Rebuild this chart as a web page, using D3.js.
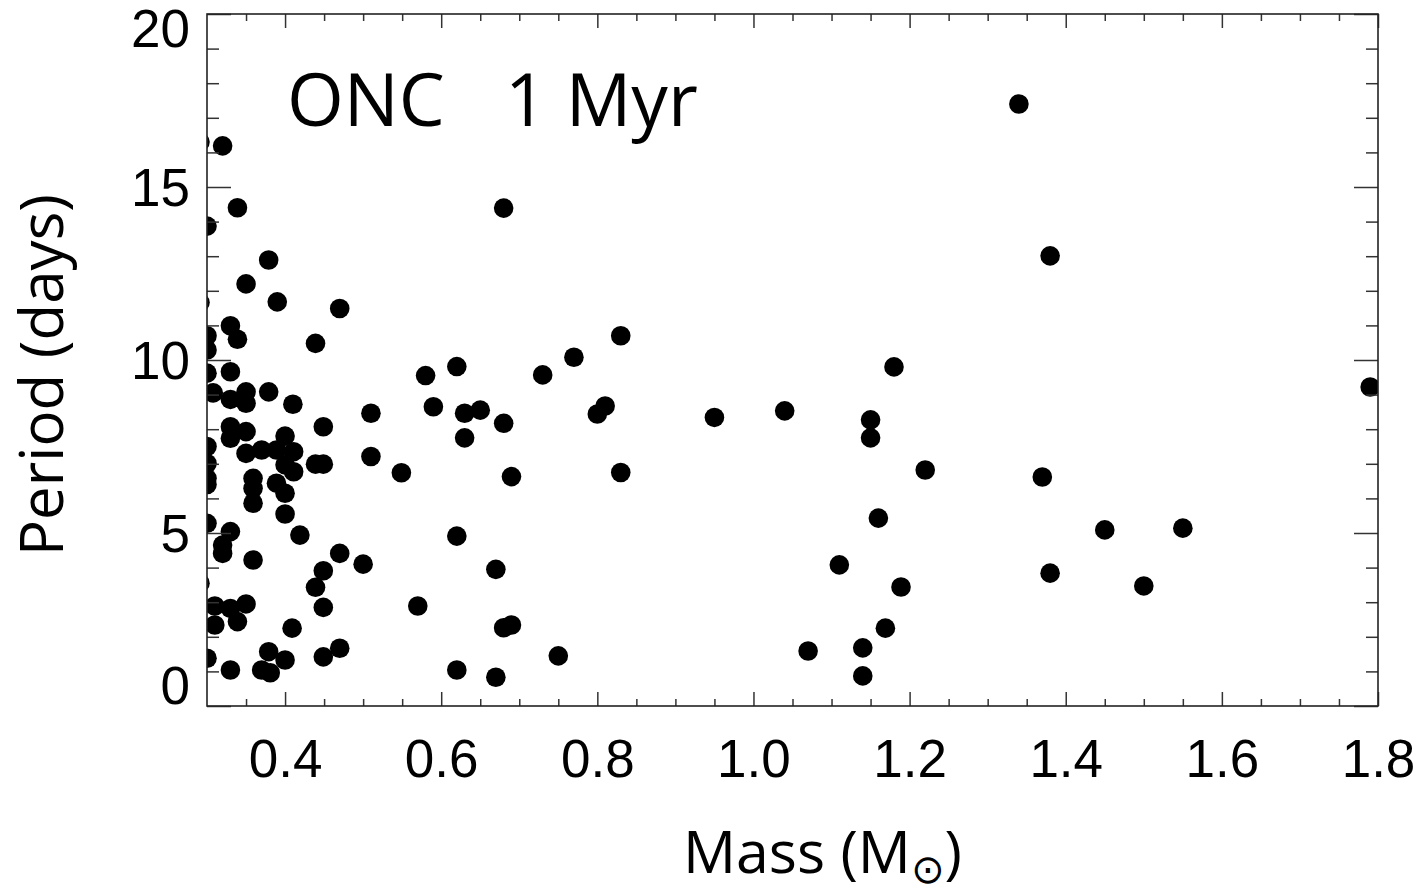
<!DOCTYPE html>
<html>
<head>
<meta charset="utf-8">
<script src="https://cdn.jsdelivr.net/npm/d3@7"></script>
<style>
  body { margin: 0; background: #fff; }
  svg { display: block; }
</style>
</head>
<body>
<svg id="chart" width="1426" height="892"></svg>
<script>
// Stellar mass (solar masses) and rotation period (days) for each star
const mass = [
  0.291, 0.300, 0.291, 0.300, 0.300, 0.300, 0.308, 0.300, 0.300, 0.300,
  0.300, 0.300, 0.291, 0.300, 0.320, 0.339, 0.379, 0.350, 0.390, 0.470,
  0.330, 0.339, 0.439, 0.330, 0.330, 0.350, 0.350, 0.379, 0.410, 0.449,
  0.330, 0.330, 0.350, 0.350, 0.370, 0.389, 0.400, 0.411, 0.400, 0.411,
  0.389, 0.400, 0.359, 0.359, 0.359, 0.400, 0.439, 0.449, 0.330, 0.320,
  0.320, 0.359, 0.419, 0.470, 0.449, 0.439, 0.449, 0.310, 0.330, 0.350,
  0.339, 0.310, 0.409, 0.330, 0.379, 0.400, 0.370, 0.381, 0.449, 0.470,
  0.500, 0.510, 0.510, 0.549, 0.580, 0.620, 0.590, 0.630, 0.650, 0.630,
  0.570, 0.620, 0.620, 0.830, 0.770, 0.730, 0.680, 0.800, 0.810, 0.950,
  0.690, 0.830, 0.670, 0.680, 0.690, 0.750, 0.670, 0.680, 1.340, 1.380,
  1.040, 1.150, 1.150, 1.180, 1.220, 1.370, 1.160, 1.450, 1.550, 1.110,
  1.380, 1.500, 1.189, 1.169, 1.070, 1.140, 1.140, 1.790
];
const period = [
  16.30, 13.87, 11.66, 10.70, 10.29, 9.62, 9.05, 7.50, 7.01, 6.58,
  6.40, 5.28, 3.55, 1.38, 16.19, 14.40, 12.89, 12.20, 11.68, 11.49,
  10.99, 10.60, 10.48, 9.66, 8.86, 9.08, 8.75, 9.08, 8.72, 8.07,
  8.07, 7.74, 7.93, 7.30, 7.40, 7.40, 7.80, 7.35, 6.97, 6.77,
  6.44, 6.15, 6.58, 6.29, 5.86, 5.55, 6.99, 6.99, 5.04, 4.65,
  4.41, 4.22, 4.94, 4.41, 3.91, 3.43, 2.85, 2.89, 2.82, 2.95,
  2.44, 2.34, 2.25, 1.04, 1.57, 1.33, 1.04, 0.96, 1.42, 1.67,
  4.10, 8.46, 7.21, 6.74, 9.55, 9.81, 8.65, 8.46, 8.55, 7.75,
  2.89, 4.91, 1.04, 10.70, 10.08, 9.57, 8.17, 8.44, 8.67, 8.34,
  6.63, 6.75, 3.95, 2.26, 2.34, 1.45, 0.83, 14.39, 17.40, 13.01,
  8.53, 8.27, 7.75, 9.80, 6.82, 6.62, 5.43, 5.09, 5.14, 4.08,
  3.84, 3.47, 3.44, 2.25, 1.59, 1.68, 0.87, 9.22
];

// Axis ticks
const xMajorTicks = [0.4, 0.6, 0.8, 1.0, 1.2, 1.4, 1.6, 1.8];
const xMinorTicks = [0.35, 0.45, 0.5, 0.55, 0.65, 0.7, 0.75, 0.85, 0.9, 0.95,
                     1.05, 1.1, 1.15, 1.25, 1.3, 1.35, 1.45, 1.5, 1.55, 1.65, 1.7, 1.75];
const yMajorTicks = [0, 5, 10, 15, 20];
const yMinorTicks = [1, 2, 3, 4, 6, 7, 8, 9, 11, 12, 13, 14, 16, 17, 18, 19];

const xDomain = [0.3, 1.8];
const yDomain = [0, 20];

const plot = { left: 207, right: 1378, top: 14, bottom: 706 };

const svg = d3.select("#chart");

const x = d3.scaleLinear().domain(xDomain).range([plot.left, plot.right]);
const y = d3.scaleLinear().domain(yDomain).range([plot.bottom, plot.top]);

const tickFont = "'Liberation Sans', Arial, Helvetica, sans-serif";
const titleFont = "'Open Sans', 'Noto Sans', sans-serif";

// Clip the markers to the plotting frame
svg.append("defs").append("clipPath").attr("id", "plot-clip")
  .append("rect")
  .attr("x", plot.left).attr("y", plot.top)
  .attr("width", plot.right - plot.left)
  .attr("height", plot.bottom - plot.top);

// Data points
const stars = mass.map((m, i) => ({ m, p: period[i] }));
svg.append("g")
  .attr("clip-path", "url(#plot-clip)")
  .selectAll("circle")
  .data(stars)
  .join("circle")
  .attr("cx", d => x(d.m))
  .attr("cy", d => y(d.p))
  .attr("r", 9.8)
  .attr("fill", "#000");

function styleAxis(g, showText) {
  g.select(".domain").remove();
  g.selectAll(".tick line").attr("stroke", "#333").attr("stroke-width", 1.5);
  if (!showText) g.selectAll(".tick text").remove();
}

// Bottom axis: major ticks with labels, then minor ticks
const gBottom = svg.append("g")
  .attr("transform", `translate(0,${plot.bottom})`)
  .call(d3.axisBottom(x).tickValues(xMajorTicks).tickSize(-14).tickPadding(33)
    .tickFormat(d3.format(".1f")));
styleAxis(gBottom, true);
gBottom.selectAll(".tick text")
  .attr("font-family", tickFont).attr("font-size", 53).attr("fill", "#000");

const gBottomMinor = svg.append("g")
  .attr("transform", `translate(0,${plot.bottom})`)
  .call(d3.axisBottom(x).tickValues(xMinorTicks).tickSize(-7).tickFormat(""));
styleAxis(gBottomMinor, false);

// Top axis: ticks only
const gTop = svg.append("g")
  .attr("transform", `translate(0,${plot.top})`)
  .call(d3.axisTop(x).tickValues(xMajorTicks).tickSize(-14).tickFormat(""));
styleAxis(gTop, false);
const gTopMinor = svg.append("g")
  .attr("transform", `translate(0,${plot.top})`)
  .call(d3.axisTop(x).tickValues(xMinorTicks).tickSize(-7).tickFormat(""));
styleAxis(gTopMinor, false);

// Left axis: major ticks with labels, then minor ticks
const gLeft = svg.append("g")
  .attr("transform", `translate(${plot.left},0)`)
  .call(d3.axisLeft(y).tickValues(yMajorTicks).tickSize(-24).tickPadding(17)
    .tickFormat(d3.format("d")));
styleAxis(gLeft, true);
gLeft.selectAll(".tick text")
  .attr("font-family", tickFont).attr("font-size", 53).attr("fill", "#000")
  .attr("dy", d => d === yDomain[0] ? "-0.04em" : d === yDomain[1] ? "0.62em" : "0.35em");

const gLeftMinor = svg.append("g")
  .attr("transform", `translate(${plot.left},0)`)
  .call(d3.axisLeft(y).tickValues(yMinorTicks).tickSize(-12).tickFormat(""));
styleAxis(gLeftMinor, false);

// Right axis: ticks only
const gRight = svg.append("g")
  .attr("transform", `translate(${plot.right},0)`)
  .call(d3.axisRight(y).tickValues(yMajorTicks).tickSize(-24).tickFormat(""));
styleAxis(gRight, false);
const gRightMinor = svg.append("g")
  .attr("transform", `translate(${plot.right},0)`)
  .call(d3.axisRight(y).tickValues(yMinorTicks).tickSize(-12).tickFormat(""));
styleAxis(gRightMinor, false);

// Frame
svg.append("rect")
  .attr("x", plot.left).attr("y", plot.top)
  .attr("width", plot.right - plot.left)
  .attr("height", plot.bottom - plot.top)
  .attr("fill", "none")
  .attr("stroke", "#222")
  .attr("stroke-width", 1.6);

// Axis titles
const xTitle = svg.append("text")
  .attr("x", 683).attr("y", 873)
  .attr("font-family", titleFont).attr("font-size", 59).attr("fill", "#000");
xTitle.append("tspan").text("Mass (M");
xTitle.append("tspan").attr("font-family", "'DejaVu Sans', sans-serif")
  .attr("font-size", 40).attr("dy", 10).text("\u2299");
xTitle.append("tspan").attr("dy", -10).text(")");

svg.append("text")
  .attr("transform", "translate(63,375) rotate(-90)")
  .attr("text-anchor", "middle")
  .attr("font-family", titleFont).attr("font-size", 60).attr("fill", "#000")
  .text("Period (days)");

// Panel label
const panelLabel = svg.append("text")
  .attr("y", 126)
  .attr("font-family", titleFont).attr("font-size", 73).attr("fill", "#000");
panelLabel.append("tspan").attr("x", 287).text("ONC");
panelLabel.append("tspan").attr("x", 505).text("1 Myr");
</script>
</body>
</html>
